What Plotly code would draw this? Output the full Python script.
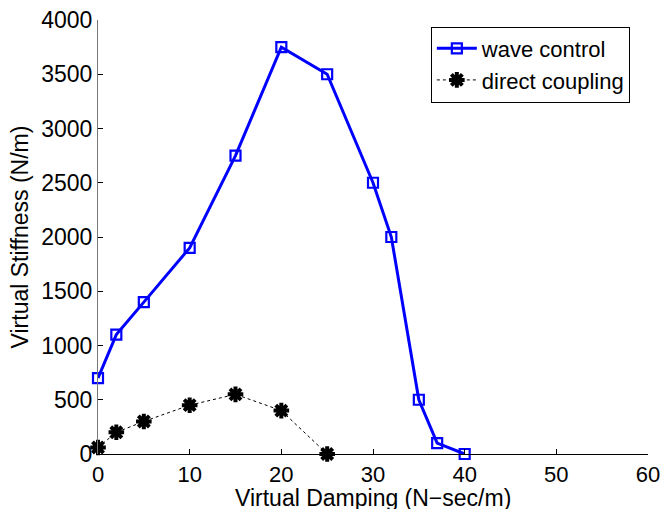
import plotly.graph_objects as go

wave_x = [0, 2, 5, 10, 15, 20, 25, 30, 32, 35, 37, 40]
wave_y = [700, 1100, 1400, 1900, 2750, 3750, 3500, 2500, 2000, 500, 100, 0]
direct_x = [0, 2, 5, 10, 15, 20, 25]
direct_y = [60, 200, 300, 450, 550, 400, 0]

x_ticks = [0, 10, 20, 30, 40, 50, 60]
y_ticks = [0, 500, 1000, 1500, 2000, 2500, 3000, 3500, 4000]

fig = go.Figure()
fig.add_trace(go.Scatter(
    x=wave_x, y=wave_y, mode="lines+markers", name="wave control",
    line=dict(color="#0000ff", width=3),
    marker=dict(symbol="square-open", size=10, color="#0000ff", line=dict(width=2.2)),
    cliponaxis=False,
))
fig.add_trace(go.Scatter(
    x=direct_x, y=direct_y, mode="lines+markers", name="direct coupling",
    line=dict(color="black", width=1, dash="dot"),
    marker=dict(symbol="asterisk-open", size=13, color="black", line=dict(width=4, color="black")),
    cliponaxis=False,
))

font = "Liberation Sans, Arial, Helvetica, sans-serif"
fig.update_layout(
    width=663, height=509,
    margin=dict(l=98, r=15, t=20, b=55, autoexpand=False),
    paper_bgcolor="white", plot_bgcolor="white",
    font=dict(family=font, size=23, color="black"),
    showlegend=True,
    legend=dict(
        x=0.967, y=0.985, xanchor="right", yanchor="top",
        bordercolor="black", borderwidth=1, bgcolor="white",
        font=dict(size=22), itemwidth=40, tracegroupgap=0,
    ),
    xaxis=dict(
        range=[0, 60], tickvals=x_ticks, ticks="inside", ticklen=5,
        tickcolor="black", showline=True, linecolor="black", linewidth=1,
        showgrid=False, zeroline=False, mirror=False, automargin=False,
        ticklabelstandoff=1,
        tickfont=dict(size=22),
    ),
    yaxis=dict(
        range=[0, 4000], tickvals=y_ticks, ticks="inside", ticklen=5,
        tickcolor="black", showline=True, linecolor="#777777", linewidth=1,
        showgrid=False, zeroline=False, mirror=False, automargin=False,
        title=dict(text="Virtual Stiffness (N/m)", standoff=6, font=dict(size=23)),
        tickfont=dict(size=23),
    ),
    annotations=[dict(
        text="Virtual Damping (N\u2212sec/m)", xref="paper", yref="paper",
        x=0.5, y=-0.102, xanchor="center", yanchor="middle", showarrow=False,
        font=dict(size=23, family=font, color="black"),
    )],
)

fig.write_html("out.html")
